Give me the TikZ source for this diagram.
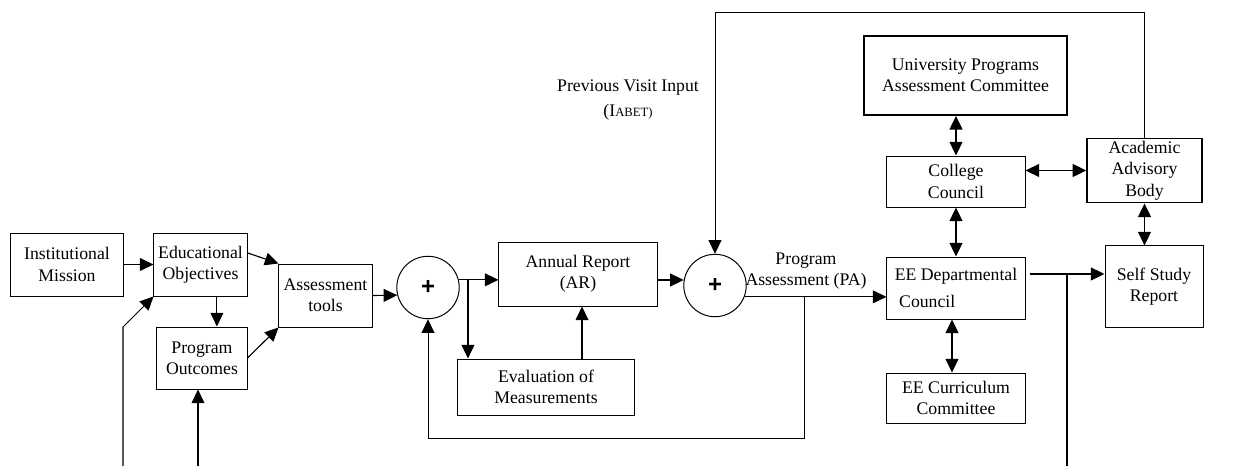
\documentclass[tikz,border=0pt]{standalone}
\usepackage{fontspec}
\setmainfont{Liberation Serif}
\newfontfamily\plusfont{Liberation Sans}
\usepackage{tikz}
\usetikzlibrary{shapes.geometric, arrows.meta, positioning}

\begin{document}
\begin{tikzpicture}[x=0.025cm, y=-0.025cm, font=\fontsize{12.6}{15.2}\selectfont]
    \tikzstyle{block} = [rectangle, draw=black, line width=0.7pt, align=center, inner sep=2pt]
    \tikzstyle{sum} = [circle, draw=black, line width=0.7pt, minimum size=1.56cm, inner sep=0pt, font=\plusfont\bfseries\fontsize{17}{17}\selectfont]
    \tikzstyle{arrow} = [line width=0.8pt, -{Triangle[length=0.34cm, width=0.32cm]}]
    \tikzstyle{darrow} = [line width=1.1pt, {Triangle[length=0.34cm, width=0.32cm]}-{Triangle[length=0.34cm, width=0.32cm]}]
    \tikzstyle{wire} = [line width=0.7pt]

    \useasboundingbox (0,0) rectangle (1244,466);

    % left part
    \node (mission) [block, minimum width=2.8cm, minimum height=1.575cm] at (67,264.5) {Institutional\\Mission};
    \node (objectives) [block, minimum width=2.325cm, minimum height=1.575cm] at (200.5,264.5) {Educational\\Objectives};
    \node (outcomes) [block, minimum width=2.25cm, minimum height=1.55cm] at (202,358) {Program\\Outcomes};
    \node (tools) [block, minimum width=2.325cm, minimum height=1.575cm] at (325.5,295.5) {Assessment\\tools};
    \node (sum1) [sum] at (428,287.5) {+};

    % middle part
    \node (report) [block, minimum width=3.95cm, minimum height=1.6cm] at (578,274) {Annual Report\\(AR)};
    \node (evaluation) [block, minimum width=4.4cm, minimum height=1.4cm] at (546,387) {Evaluation of\\Measurements};
    \node (sum2) [sum] at (715,285.5) {+};
    \node (visit) [align=center] at (628,100) {Previous Visit Input\\[2pt](I{\fontsize{9}{9}\selectfont ABET)}};
    \node (pa) [align=center] at (806,271) {Program\\Assessment (PA)};

    % right part
    \node (upac) [block, line width=1.3pt, minimum width=5.075cm, minimum height=1.975cm] at (965.5,75.5) {University Programs\\Assessment Committee};
    \node (college) [block, minimum width=3.45cm, minimum height=1.275cm] at (956,181.5) {College\\Council};
    \node (advisory) [block, line width=1pt, minimum width=2.875cm, minimum height=1.575cm] at (1144.5,170.5) {Academic\\Advisory\\Body};
    \node (dept) [block, align=left, minimum width=3.45cm, minimum height=1.55cm] at (956,288) {EE Departmental\\[4pt]\ Council};
    \node (curriculum) [block, minimum width=3.45cm, minimum height=1.25cm] at (956,398) {EE Curriculum\\Committee};
    \node (selfstudy) [block, minimum width=2.45cm, minimum height=2.025cm] at (1154,286.5) {Self Study\\Report};

    \coordinate (inA) at (123,466);
    \coordinate (inB) at (198,466);
    \coordinate (fb) at (804,297);
    \coordinate (outC) at (1067,466);

    \draw [arrow] (mission) -- (objectives);
    \draw [arrow] ([xshift=0.41cm]objectives.south) -- ([xshift=0.41cm]objectives.south |- outcomes.north);
    \draw [arrow] ([yshift=0.29cm]objectives.east) -- (tools.north west);
    \draw [arrow] (outcomes.east) -- (tools.south west);
    \draw [arrow] (tools.east) -- (sum1.194);
    \draw [arrow, line width=0.75pt] (inA) -- ++(0,-139) -- (objectives.south west);
    \draw [arrow, line width=0.75pt] (inB) -- (inB |- outcomes.south);

    \draw [arrow] (sum1.14) -- (sum1.14 -| report.west);
    \draw [arrow] ([xshift=0.23cm]sum1.14) -- ([xshift=0.23cm]sum1.14 |- evaluation.north);
    \draw [arrow] ([xshift=0.9cm]evaluation.north) -- ([xshift=0.9cm]evaluation.north |- report.south);
    \draw [arrow] (sum2.170 -| report.east) -- (sum2.170);
    \draw [arrow, line width=0.7pt] (sum2.-21) -- (sum2.-21 -| dept.west);
    \draw [arrow, line width=0.7pt] (fb) -- ++(0,141) -| (sum1.south);
    \draw [wire, -{Triangle[length=0.34cm, width=0.32cm]}] (advisory.north) -- ++(0,-125) -| (sum2.north);

    \draw [darrow] (college.north) -- (college.north |- upac.south);
    \draw [darrow] (advisory.west -| college.east) -- (advisory.west);
    \draw [darrow] (college.south) -- (dept.north);
    \draw [darrow] (advisory.south) -- (advisory.south |- selfstudy.north);
    \draw [darrow] ([xshift=-0.1cm]dept.south) -- ([xshift=-0.1cm]curriculum.north);
    \draw [arrow, line width=1.1pt] ([xshift=0.1cm, yshift=0.35cm]dept.east) -- ([yshift=0.35cm]dept.east -| selfstudy.west);
    \draw [wire, line width=1.1pt] (outC) -- ++(0,-192);
\end{tikzpicture}
\end{document}
